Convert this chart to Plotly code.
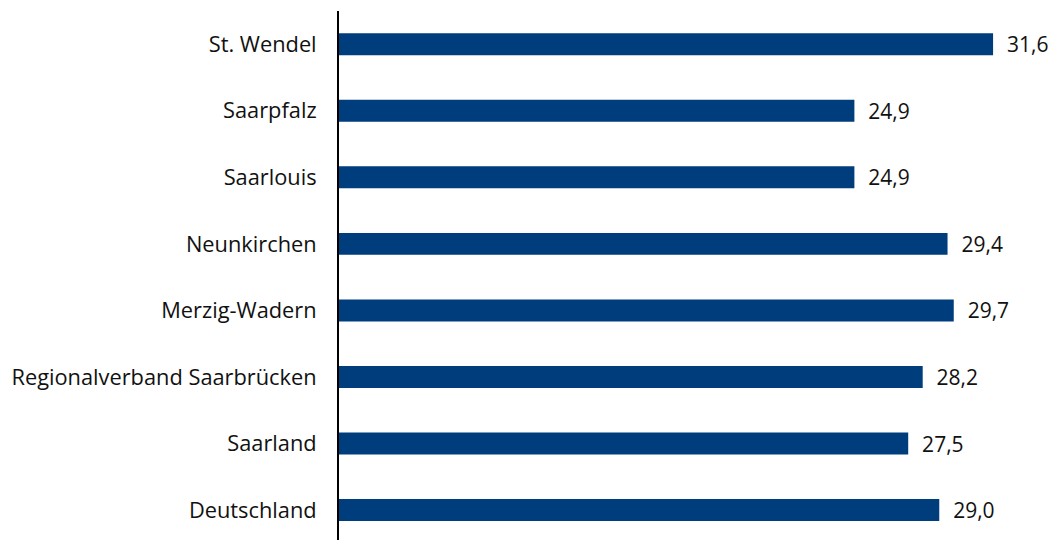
import plotly.graph_objects as go

categories = ["St. Wendel", "Saarpfalz", "Saarlouis", "Neunkirchen", "Merzig-Wadern",
              "Regionalverband Saarbrücken", "Saarland", "Deutschland"]
values = [31.6, 24.9, 24.9, 29.4, 29.7, 28.2, 27.5, 29.0]
value_labels = ["\u00a0\u00a0" + f"{v:.1f}".replace(".", ",") for v in values]

FONT = "Open Sans"
fig = go.Figure(go.Bar(
    x=values, y=categories, orientation="h",
    marker=dict(color="#003D7C", line=dict(width=0)),
    text=value_labels, textposition="outside", constraintext="none",
    textfont=dict(family=FONT, size=21, color="#111111"),
    cliponaxis=False, width=0.33, hoverinfo="skip",
))

fig.update_layout(
    width=1050, height=540,
    margin=dict(l=339, r=0, t=11, b=0, autoexpand=False),
    paper_bgcolor="white", plot_bgcolor="white",
    showlegend=False,
    font=dict(family=FONT, size=21, color="#111111"),
    xaxis=dict(range=[0, 34.35], visible=False, showgrid=False, zeroline=False),
    yaxis=dict(type="category", range=[7.45, -0.5], showgrid=False, zeroline=False,
               showline=True, linecolor="#000000", linewidth=2,
               ticks="outside", ticklen=16, tickcolor="rgba(0,0,0,0)",
               automargin=False,
               tickfont=dict(family=FONT, size=21.8, color="#111111")),
)

fig.write_html(
    "out.html",
    config={"displayModeBar": False, "staticPlot": True},
    post_script="document.body.style.margin='0';document.body.style.overflow='hidden';"
                "document.documentElement.style.overflow='hidden';",
)
